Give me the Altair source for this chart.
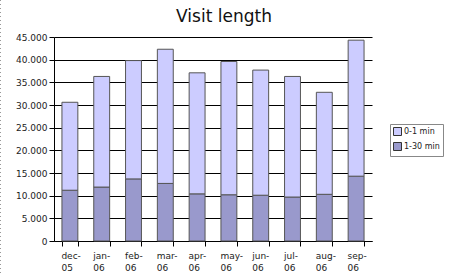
import altair as alt
import pandas as pd

months = ["dec-05", "jan-06", "feb-06", "mar-06", "apr-06", "may-06",
          "jun-06", "jul-06", "aug-06", "sep-06"]
short_visits = [19400, 24400, 26100, 29600, 26700, 29400, 27600, 26600, 22500, 30000]   # 0-1 min
long_visits = [11200, 11900, 13700, 12700, 10400, 10200, 10100, 9700, 10300, 14300]     # 1-30 min
series = ["0-1 min", "1-30 min"]
colors = ["#ccccff", "#9999cc"]
y_ticks = [0, 5000, 10000, 15000, 20000, 25000, 30000, 35000, 40000, 45000]

rows = []
for m, a, b in zip(months, short_visits, long_visits):
    rows.append({"month": m, "series": series[1], "value": b, "ord": 0})
    rows.append({"month": m, "series": series[0], "value": a, "ord": 1})
df = pd.DataFrame(rows)

FONT = "DejaVu Sans"

bars = alt.Chart(df).mark_bar(stroke="#555555", strokeWidth=1).encode(
    x=alt.X("month:N", sort=months,
            scale=alt.Scale(paddingInner=0.5, paddingOuter=0.25),
            axis=alt.Axis(title=None, labelAngle=0, tickBand="extent", tickSize=5,
                          labelExpr="[slice(datum.label,0,4), slice(datum.label,4)]",
                          labelAlign="left", labelOffset=-9, labelPadding=5, labelLineHeight=12,
                          labelFontSize=9, labelColor="#222222",
                          domainColor="#000000", tickColor="#000000", grid=False)),
    y=alt.Y("value:Q", stack="zero",
            scale=alt.Scale(domain=[0, 45000], nice=False),
            axis=alt.Axis(title=None, values=y_ticks, tickSize=5,
                          labelExpr="replace(format(datum.value, ','), ',', '.')",
                          labelFontSize=9, labelColor="#222222", labelPadding=2,
                          grid=True, gridColor="#000000", gridOpacity=1, gridWidth=1,
                          domainColor="#000000", tickColor="#000000")),
    color=alt.Color("series:N",
                    scale=alt.Scale(domain=series, range=colors),
                    legend=alt.Legend(title=None, orient="none", legendX=336, legendY=87,
                                      symbolType="square", symbolSize=64,
                                      symbolStrokeColor="#333333", symbolStrokeWidth=1,
                                      symbolOpacity=1,
                                      labelFontSize=8, labelFont=FONT, labelColor="#222222",
                                      rowPadding=2, padding=3, labelOffset=2,
                                      strokeColor="#888888", fillColor="#ffffff")),
    order=alt.Order("ord:Q", sort="ascending"),
)

border = alt.Chart(pd.DataFrame({"a": [0]})).mark_rule(
    color="#999999", strokeDash=[1, 3], strokeWidth=1
).encode(x=alt.value(-53.5), y=alt.value(-37), y2=alt.value(239))

chart = alt.layer(border, bars).properties(
    width=318, height=204,
    autosize=alt.AutoSizeParams(type="none"),
    padding={"left": 54, "top": 37, "right": 78, "bottom": 35},
    title=alt.TitleParams("Visit length", fontSize=17, font=FONT, fontWeight="normal",
                          color="#111111", anchor="middle", dx=11, dy=39, offset=0,
                          baseline="alphabetic"),
).configure_view(stroke=None).configure_axis(labelFont=FONT)

chart.save("out.html", embed_options={"renderer": "svg", "actions": False})
